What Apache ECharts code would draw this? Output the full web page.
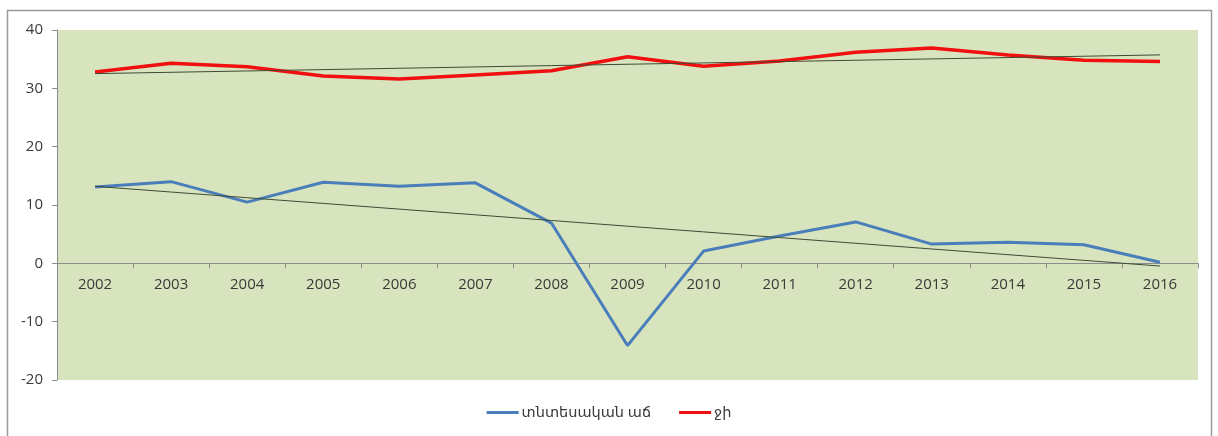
<!DOCTYPE html>
<html>
<head>
<meta charset="utf-8">
<script src="https://cdn.jsdelivr.net/npm/echarts@6/dist/echarts.min.js"></script>
<style>
  html, body { margin: 0; padding: 0; background: #ffffff; }
  #chart { width: 1218px; height: 436px; }
</style>
</head>
<body>
<div id="chart"></div>
<script>
// Years on the category axis
const years = ['2002', '2003', '2004', '2005', '2006', '2007', '2008', '2009',
               '2010', '2011', '2012', '2013', '2014', '2015', '2016'];

// Economic growth, %
const growth = [13.1, 14.0, 10.5, 13.9, 13.2, 13.8, 6.9, -14.1,
                2.1, 4.7, 7.1, 3.3, 3.6, 3.2, 0.2];

// Gini index
const gini = [32.8, 34.3, 33.7, 32.1, 31.6, 32.3, 33.0, 35.4,
              33.8, 34.7, 36.2, 36.9, 35.7, 34.8, 34.6];

// Series names shown in the legend
const growthName = 'տնտեսական աճ';
const giniName = 'ջի';

// Value axis range and step
const yMin = -20, yMax = 40, yStep = 10;

// Least-squares linear trend over the category index
function linearTrend(values) {
  const n = values.length;
  let sx = 0, sy = 0, sxy = 0, sxx = 0;
  values.forEach((v, i) => { sx += i; sy += v; sxy += i * v; sxx += i * i; });
  const slope = (n * sxy - sx * sy) / (n * sxx - sx * sx);
  const intercept = (sy - slope * sx) / n;
  return values.map((_, i) => +(intercept + slope * i).toFixed(3));
}

const font = '"Open Sans", "DejaVu Sans", sans-serif';
const textColor = '#3a3a3a';
const axisGray = '#8c8c8c';
const trendStyle = { color: '#3e4b35', width: 1 };

// Plot area box
const gridTop = 30, gridBottom = 56, chartHeight = 436;
const gridHeight = chartHeight - gridTop - gridBottom;
// Lift the category axis (line, ticks, labels) up to the zero level
const zeroOffset = -gridHeight * (0 - yMin) / (yMax - yMin);

const chart = echarts.init(document.getElementById('chart'), null, { renderer: 'canvas' });

chart.setOption({
  animation: false,
  backgroundColor: '#ffffff',
  graphic: [{
    type: 'rect',
    shape: { x: 7.5, y: 10.5, width: 1204, height: 440 },
    style: { fill: 'none', stroke: '#9a9a9a', lineWidth: 1.5 },
    silent: true
  }],
  grid: {
    left: 57, right: 20, top: gridTop, bottom: gridBottom,
    show: true, backgroundColor: '#d7e4bd', borderWidth: 0
  },
  legend: {
    bottom: 11,
    left: 'center',
    itemWidth: 32,
    itemHeight: 3,
    itemGap: 28,
    icon: 'rect',
    textStyle: { fontFamily: font, fontSize: 14.5, color: textColor, padding: [0, 0, 0, -2] },
    data: [growthName, giniName]
  },
  xAxis: {
    type: 'category',
    data: years,
    boundaryGap: true,
    position: 'bottom',
    offset: zeroOffset,
    axisLine: { onZero: false, lineStyle: { color: axisGray, width: 1 } },
    axisTick: { show: true, inside: false, length: 5, alignWithLabel: false, lineStyle: { color: axisGray } },
    axisLabel: { fontFamily: font, fontSize: 15, color: textColor, margin: 14 },
    splitLine: { show: false }
  },
  yAxis: {
    type: 'value',
    min: yMin, max: yMax, interval: yStep,
    axisLine: { show: true, lineStyle: { color: axisGray, width: 1 } },
    axisTick: { show: true, length: 5, lineStyle: { color: axisGray } },
    axisLabel: { fontFamily: font, fontSize: 15, color: textColor, margin: 14 },
    splitLine: { show: false }
  },
  series: [
    {
      name: growthName,
      type: 'line',
      data: growth,
      symbol: 'none',
      lineStyle: { color: '#4a7ebb', width: 3 },
      itemStyle: { color: '#4a7ebb' },
      z: 3
    },
    {
      name: giniName,
      type: 'line',
      data: gini,
      symbol: 'none',
      lineStyle: { color: '#f01010', width: 3.5 },
      itemStyle: { color: '#f01010' },
      z: 3
    },
    {
      name: 'growth-trend',
      type: 'line',
      data: linearTrend(growth),
      symbol: 'none',
      lineStyle: trendStyle,
      silent: true,
      z: 4
    },
    {
      name: 'gini-trend',
      type: 'line',
      data: linearTrend(gini),
      symbol: 'none',
      lineStyle: trendStyle,
      silent: true,
      z: 4
    }
  ]
});
</script>
</body>
</html>
